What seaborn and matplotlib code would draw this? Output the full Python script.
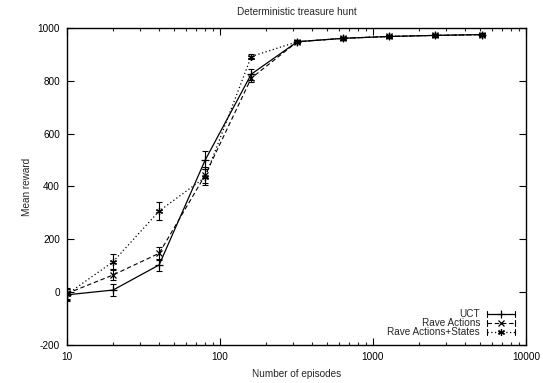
import matplotlib
matplotlib.use("Agg")
import matplotlib.pyplot as plt
import seaborn as sns
import pandas as pd
from matplotlib.ticker import LogLocator, FixedLocator, NullFormatter

# ---- data ----
episodes = [10, 20, 40, 80, 160, 320, 640, 1280, 2560, 5120]
uct = [-10, 8, 103, 500, 825, 948, 961, 968, 972, 975]
uct_err = [22, 24, 24, 33, 20, 5, 5, 5, 5, 5]
rave_a = [-5, 65, 147, 443, 810, 948, 961, 968, 972, 975]
rave_a_err = [20, 20, 25, 30, 15, 5, 5, 5, 5, 5]
rave_as = [-8, 115, 307, 435, 892, 948, 961, 968, 972, 975]
rave_as_err = [20, 28, 33, 30, 10, 5, 5, 5, 5, 5]
series_names = ["UCT", "Rave Actions", "Rave Actions+States"]
yticks = [-200, 0, 200, 400, 600, 800, 1000]
xticks = [10, 100, 1000, 10000]

sns.set_style("ticks")
plt.rcParams['font.family'] = ['Liberation Sans', 'DejaVu Sans']
FS = 7.2

fig = plt.figure(figsize=(5.43, 3.83), dpi=100)
ax = fig.add_axes([67/543, 1-345/383, (526-67)/543, (345-28)/383])

styles = [
    dict(ls='-', marker='+', lw=0.9, ms=6, dashes=None),
    dict(ls='--', marker='x', lw=0.8, ms=4.5, dashes=(4, 2.5)),
    dict(ls=':', marker=(6, 2, 0), lw=0.9, ms=5, dashes=(1, 2)),
]
vals = [uct, rave_a, rave_as]
errs = [uct_err, rave_a_err, rave_as_err]

for name, v, e, st in zip(series_names, vals, errs, styles):
    df = pd.DataFrame({"episodes": episodes, "reward": v})
    sns.lineplot(x="episodes", y="reward", data=df, ax=ax, color="black",
                 lw=st['lw'], marker=st['marker'], markersize=st['ms'],
                 markeredgewidth=0.9, markeredgecolor='black',
                 markerfacecolor='black', legend=False)
    if st['dashes'] is not None:
        ax.lines[-1].set_dashes(st['dashes'])
    ax.errorbar(episodes, v, yerr=e, fmt='none', ecolor='black',
                elinewidth=0.8, capsize=2.5, capthick=0.8)

ax.set_xscale('log')
ax.set_xlim(10, 10000)
ax.set_ylim(-200, 1000)
ax.xaxis.set_major_locator(FixedLocator(xticks))
ax.set_xticklabels([str(t) for t in xticks])
ax.xaxis.set_minor_locator(LogLocator(base=10, subs=range(2, 10)))
ax.xaxis.set_minor_formatter(NullFormatter())
ax.set_yticks(yticks)
ax.set_yticklabels([str(t) for t in yticks])

ax.tick_params(axis='both', which='major', direction='in', length=5, width=0.8,
               top=True, right=True, labelsize=FS, pad=5, colors='black')
ax.tick_params(axis='x', which='minor', direction='in', length=2.5, width=0.8,
               top=True, bottom=True)
for s in ax.spines.values():
    s.set_visible(True)
    s.set_linewidth(1.0)
    s.set_color('black')

ax.set_title("Deterministic treasure hunt", fontsize=FS, pad=9)
ax.set_xlabel("Number of episodes", fontsize=FS, labelpad=5)
ax.set_ylabel("Mean reward", fontsize=FS, labelpad=4)

# gnuplot-style key
tr = ax.transAxes
rows_y = [(345-314)/317, (345-323)/317, (345-332)/317]
x_text = (480-67)/459
x0, x1 = (487-67)/459, (515-67)/459
xm = (x0 + x1) / 2
cap = 3/317
for name, y, st in zip(series_names, rows_y, styles):
    ax.text(x_text, y, name, transform=tr, ha='right', va='center', fontsize=FS)
    ln, = ax.plot([x0, x1], [y, y], transform=tr, color='black', lw=st['lw'], ls=st['ls'], clip_on=False)
    if st['dashes'] is not None:
        ln.set_dashes(st['dashes'])
    ax.plot([xm], [y], transform=tr, color='black', marker=st['marker'],
            ms=st['ms'], mew=0.9, clip_on=False)
    for xx in (x0, x1):
        ax.plot([xx, xx], [y-cap, y+cap], transform=tr, color='black', lw=0.8, clip_on=False)

fig.savefig("out.png", dpi=100)
